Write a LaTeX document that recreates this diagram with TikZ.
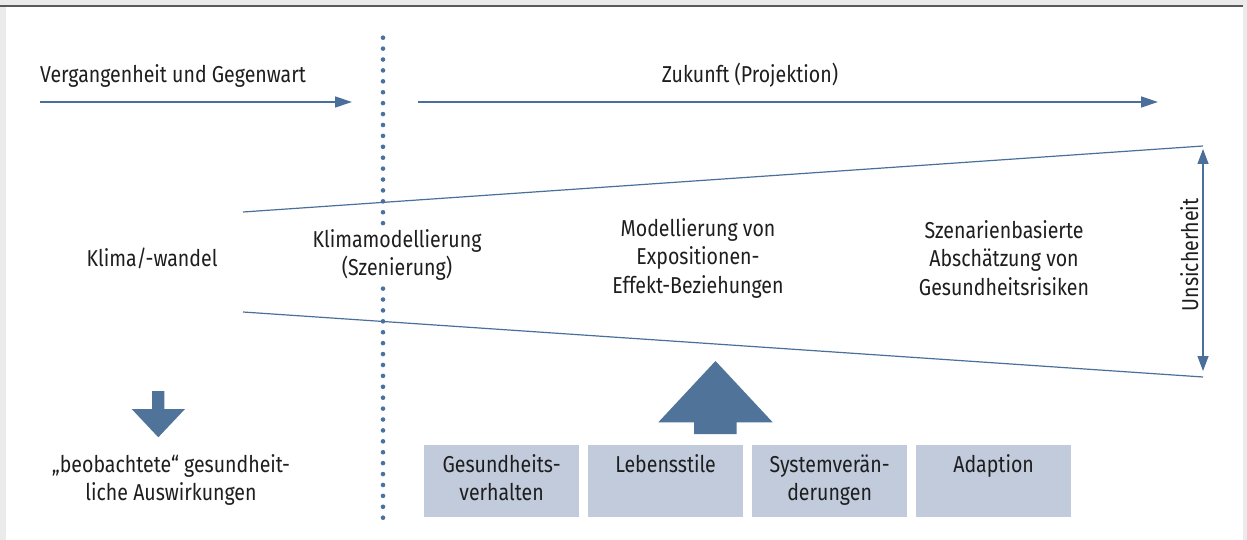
\documentclass[tikz,border=0pt]{standalone}
\usepackage{fontspec}
\setmainfont{Fira Sans}[FakeStretch=0.85]
\usetikzlibrary{arrows.meta}
\definecolor{bline}{HTML}{4A6F9A}
\definecolor{bfill}{HTML}{4F7399}
\definecolor{dotc}{HTML}{4A72A0}
\definecolor{boxc}{HTML}{C1CBDC}
\definecolor{txt}{HTML}{1E1E1E}
\definecolor{bg}{HTML}{EBEBEB}
\definecolor{topline}{HTML}{5A5A5A}
\begin{document}
\begin{tikzpicture}[x=1pt,y=-1pt,
  every node/.style={text=txt, font=\fontsize{23}{28.5}\selectfont, inner sep=0pt},
  lbl/.style={align=center},
  thinline/.style={draw=bline, line width=1.2pt},
  flow/.style={draw=bline, line width=1.3pt, -{Triangle[length=17pt,width=11pt]}},
  dbl/.style={draw=bline, line width=1.3pt, {Triangle[length=15pt,width=11pt]}-{Triangle[length=15pt,width=11pt]}},
  dots/.style={draw=dotc, line width=4.6pt, line cap=round, dash pattern=on 0pt off 10.909pt},
  fat/.style={fill=bfill, draw=none},
  box/.style={fill=boxc, minimum width=155pt, minimum height=72pt, align=center}]
\useasboundingbox (0,0) rectangle (1247,540);
\fill[bg] (0,0) rectangle (1247,540);
\fill[white] (6,7) rectangle (1243,540);
\draw[topline, line width=2pt] (0,6) -- (1243,6);

% timeline
\coordinate (p0) at (40,102);
\coordinate (p1) at (352,102);
\coordinate (f0) at (418,102);
\coordinate (f1) at (1158,102);
\draw[flow] (p0) -- (p1);
\draw[flow] (f0) -- (f1);
\node[anchor=base west] (vg) at (40,83) {Vergangenheit und Gegenwart};
\node[anchor=base] (zk) at (750,83) {Zukunft (Projektion)};

% dotted separator
\coordinate (d0) at (383,37.7);
\coordinate (d1) at (383,223.2);
\coordinate (d2) at (383,288.6);
\coordinate (d3) at (383,517.7);
\draw[dots] (d0) -- (d1);
\draw[dots] (d2) -- (d3);

% funnel
\coordinate (u0) at (243,212);
\coordinate (u1) at (1203,146);
\coordinate (l0) at (243,312);
\coordinate (l1) at (1203,377);
\draw[thinline] (u0) -- (u1);
\draw[thinline] (l0) -- (l1);
\coordinate (a0) at (1203,149);
\coordinate (a1) at (1203,371);
\draw[dbl] (a0) -- (a1);
\node[rotate=90, anchor=base] (un) at (1198,255) {Unsicherheit};

% labels in funnel
\node[lbl] (kw) at (152,258) {Klima/-wandel};
\node[lbl] (km) at (397,255) {Klimamodellierung\\(Szenierung)};
\node[lbl] (me) at (698,258) {Modellierung von\\Expositionen-\\Effekt-Beziehungen};
\node[lbl] (sz) at (1004,258) {Szenarienbasierte\\Abschätzung von\\Gesundheitsrisiken};

% down arrow and observed effects
\fill[fat] (152,391) -- (164.3,391) -- (164.3,409) -- (185,409) -- (158.3,437.3) -- (131.7,409) -- (152,409) -- cycle;
\node[lbl] (ob) at (171,480) {„beobachtete“ gesundheit-\\liche Auswirkungen};

% up arrow
\fill[fat] (694,434) -- (736.7,434) -- (736.7,422.3) -- (772.7,422.3) -- (715.5,361) -- (658.3,422.3) -- (694,422.3) -- cycle;

% boxes
\node[box] (b1) at (501.6,481) {\strut Gesundheits-\\\strut verhalten};
\node[box] (b2) at (665.6,481) {\strut Lebensstile\\\strut};
\node[box] (b3) at (829.6,481) {\strut Systemverän-\\\strut derungen};
\node[box] (b4) at (993.6,481) {\strut Adaption\\\strut};
\end{tikzpicture}
\end{document}
